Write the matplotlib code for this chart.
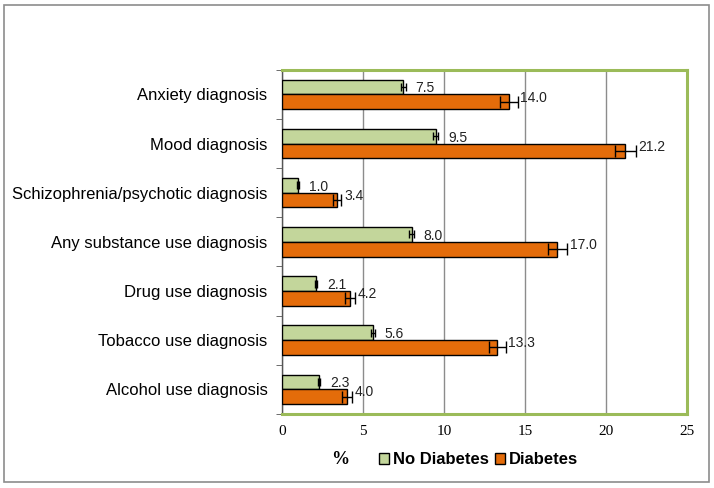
import matplotlib
matplotlib.use("Agg")
import matplotlib.pyplot as plt
import numpy as np
from matplotlib.patches import Rectangle

categories = ["Anxiety diagnosis", "Mood diagnosis", "Schizophrenia/psychotic diagnosis",
              "Any substance use diagnosis", "Drug use diagnosis", "Tobacco use diagnosis",
              "Alcohol use diagnosis"]
no_diabetes = [7.5, 9.5, 1.0, 8.0, 2.1, 5.6, 2.3]
no_diabetes_err = [0.15, 0.15, 0.06, 0.15, 0.07, 0.12, 0.07]
diabetes = [14.0, 21.2, 3.4, 17.0, 4.2, 13.3, 4.0]
diabetes_err = [0.55, 0.65, 0.25, 0.6, 0.3, 0.5, 0.3]
xticks = [0, 5, 10, 15, 20, 25]

green = "#c3d69b"
orange = "#e46c0a"
frame_green = "#9bbb59"

fig = plt.figure(figsize=(7.14, 4.88), dpi=100)
fig.patches.append(Rectangle((0.006, 0.012), 0.987, 0.978, transform=fig.transFigure,
                             fill=False, edgecolor="#8c8c8c", linewidth=1.2))
ax = fig.add_axes([0.395, 0.152, 0.567, 0.705])

n = len(categories)
y = np.arange(n)
h = 0.3
ax.barh(y - h / 2, no_diabetes, height=h, color=green, edgecolor="black", linewidth=1,
        xerr=no_diabetes_err, error_kw=dict(ecolor="black", elinewidth=1, capsize=3, capthick=1), zorder=3)
ax.barh(y + h / 2, diabetes, height=h, color=orange, edgecolor="black", linewidth=1,
        xerr=diabetes_err, error_kw=dict(ecolor="black", elinewidth=1, capsize=4, capthick=1), zorder=3)

for i in range(n):
    ax.annotate(f"{no_diabetes[i]:.1f}", (no_diabetes[i] + no_diabetes_err[i], y[i] - h / 2),
                xytext=(7, -1), textcoords="offset points", ha="left", va="center",
                fontsize=10, family="Liberation Sans", color="#222222")
    ax.annotate(f"{diabetes[i]:.1f}", (diabetes[i] + diabetes_err[i], y[i] + h / 2),
                xytext=(2, 3), textcoords="offset points", ha="left", va="center",
                fontsize=10, family="Liberation Sans", color="#222222")

ax.set_ylim(n - 0.5, -0.5)
ax.set_xlim(0, 25)
ax.set_xticks(xticks)
ax.set_xticklabels([str(t) for t in xticks], family="Liberation Serif", fontsize=11)
ax.set_yticks(y)
ax.set_yticklabels(categories, family="Liberation Sans", fontsize=12)
ax.set_yticks(np.arange(n + 1) - 0.5, minor=True)
ax.tick_params(axis="y", which="major", length=0, pad=10.5)
ax.tick_params(axis="y", which="minor", length=4, color="#555555", direction="out")
ax.tick_params(axis="x", length=0, pad=8)
ax.xaxis.grid(True, color="#8c8c8c", linewidth=1, zorder=0)
ax.set_axisbelow(True)
for s in ["top", "right", "bottom"]:
    ax.spines[s].set_color(frame_green)
    ax.spines[s].set_linewidth(2.2)
ax.spines["left"].set_color("#555555")
ax.spines["left"].set_linewidth(1)

fig.text(0.477, 0.058, "%", family="Liberation Serif", fontweight="bold", fontsize=13,
         ha="center", va="center")
handles = [Rectangle((0, 0), 1, 1, facecolor=green, edgecolor="black", linewidth=1),
           Rectangle((0, 0), 1, 1, facecolor=orange, edgecolor="black", linewidth=1)]
fig.legend(handles, ["No Diabetes", "Diabetes"], loc="center", bbox_to_anchor=(0.67, 0.058),
           ncol=2, frameon=False, handlelength=0.6, handleheight=0.6, handletextpad=0.2,
           columnspacing=0.4, prop=dict(family="Liberation Sans", weight="bold", size=12))

fig.savefig("out.png", dpi=100)
